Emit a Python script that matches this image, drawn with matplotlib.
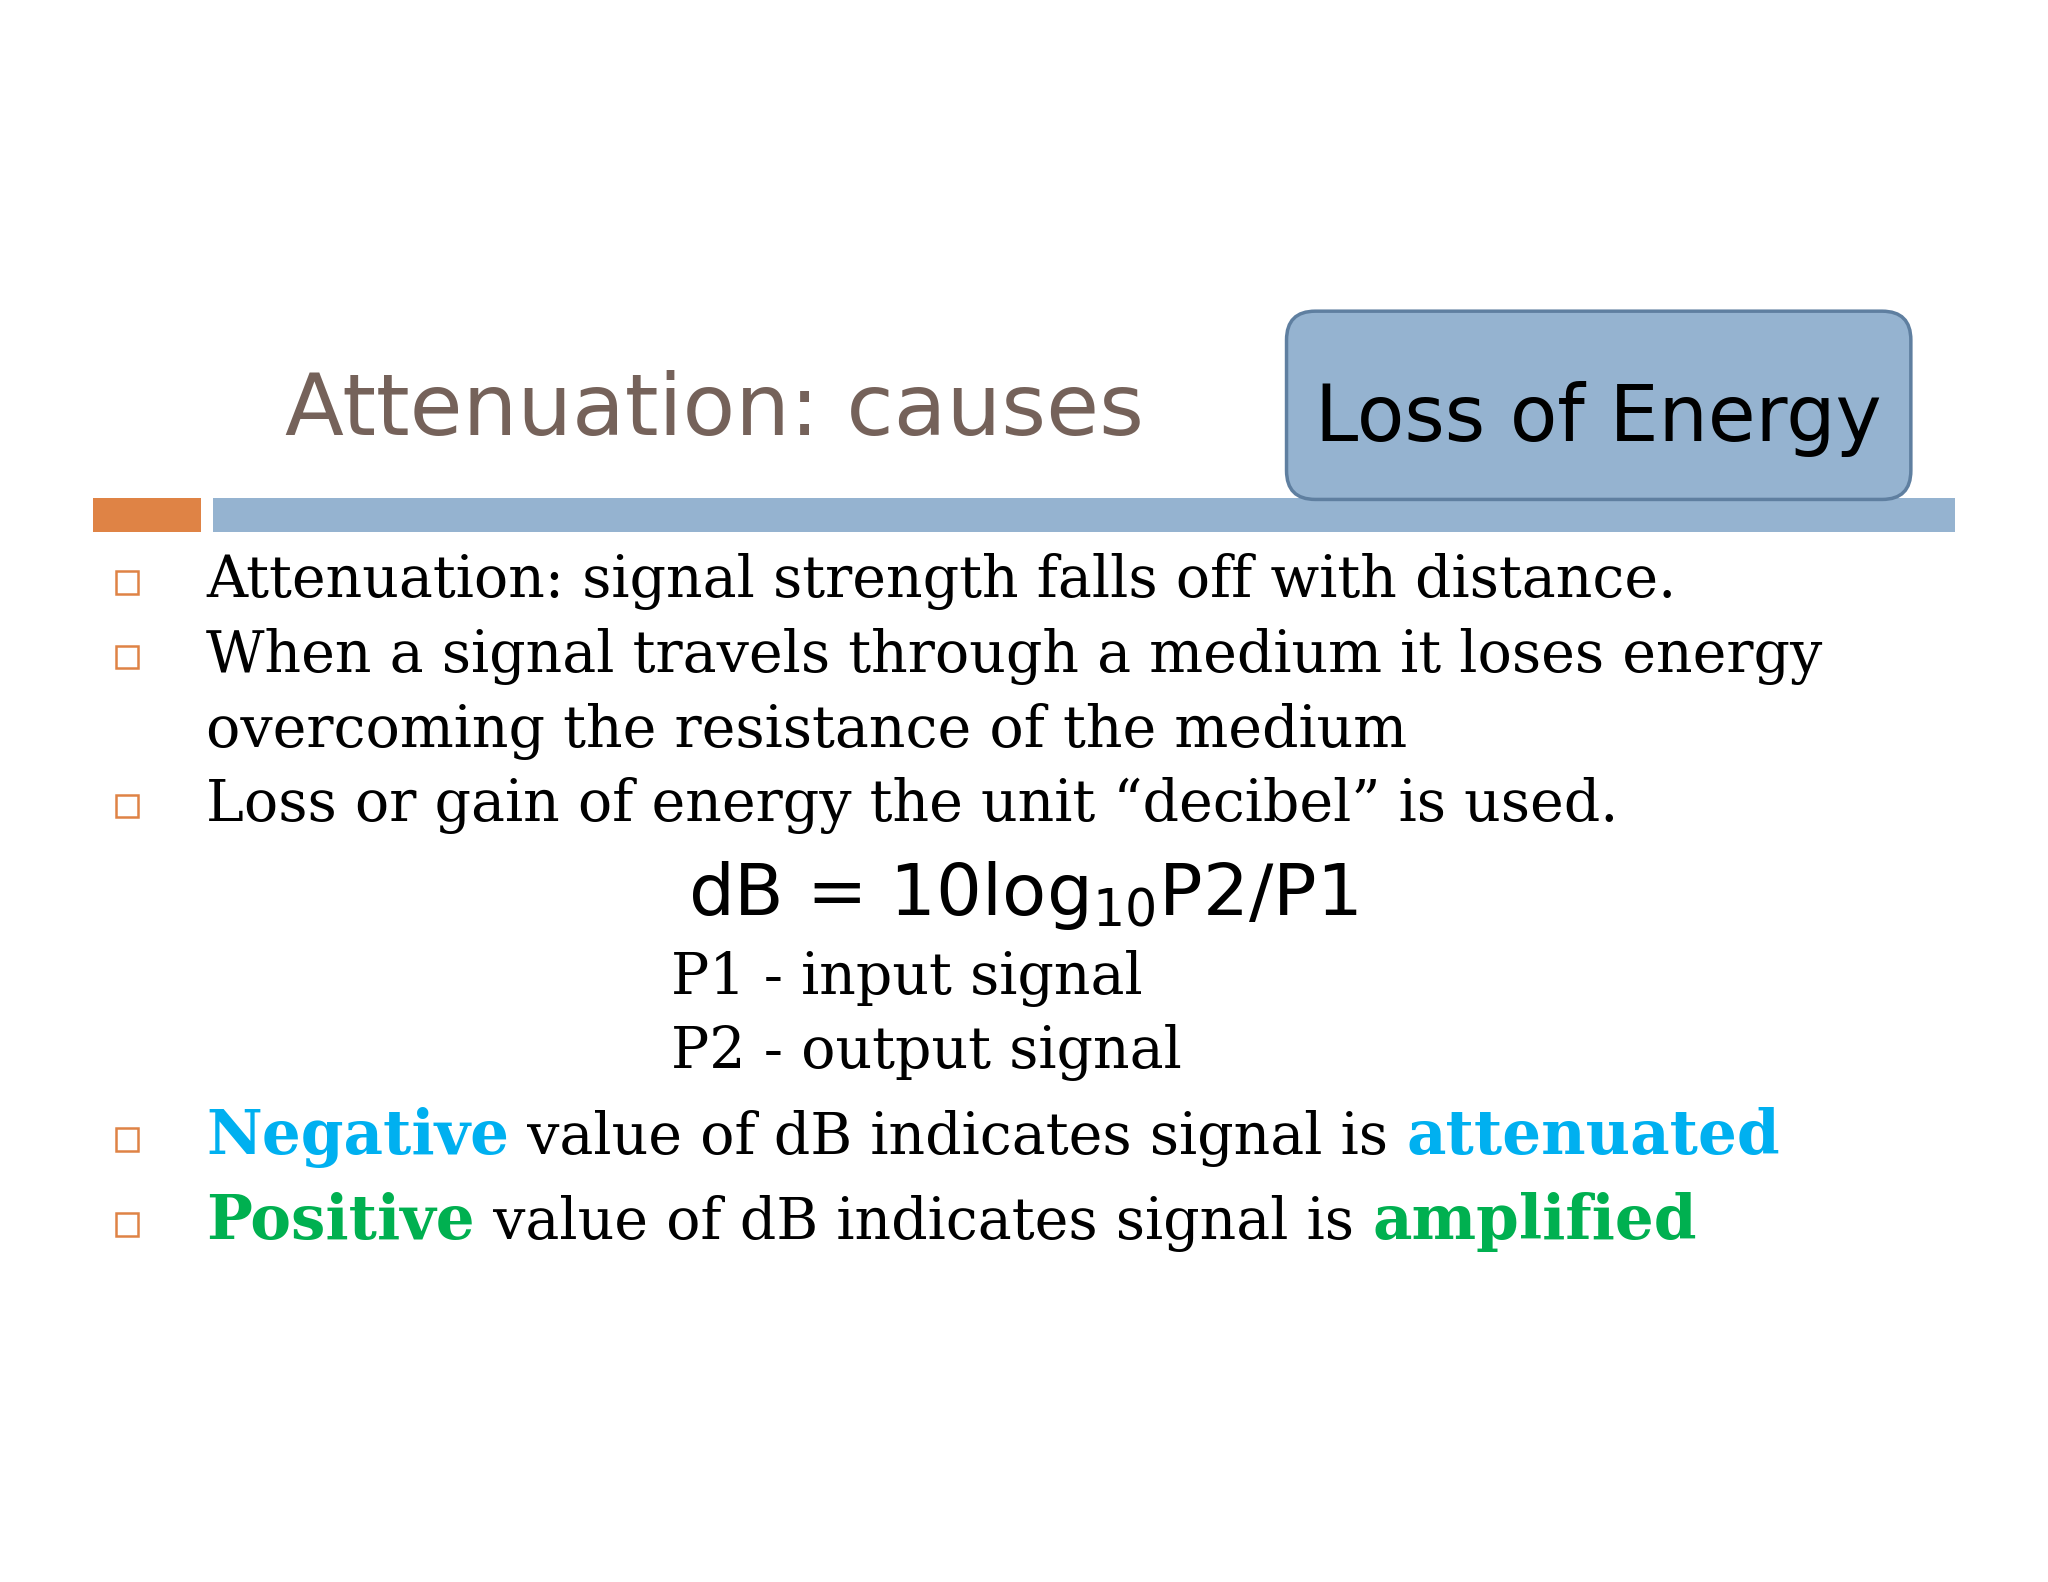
import matplotlib
matplotlib.use("Agg")
import matplotlib.pyplot as plt
from matplotlib.patches import FancyBboxPatch, Rectangle

title = "Attenuation: causes"
box_text = "Loss of Energy"
bullets = ["Attenuation: signal strength falls off with distance.",
           "When a signal travels through a medium it loses energy",
           "Loss or gain of energy the unit \u201cdecibel\u201d is used."]
continuation = "overcoming the resistance of the medium"
formula = r"dB = 10log$_{10}$P2/P1"
defs = ["P1 - input signal", "P2 - output signal"]
neg_parts = [("Negative", "#00B0F0", True), (" value of dB indicates signal is ", "black", False), ("attenuated", "#00B0F0", True)]
pos_parts = [("Positive", "#00B050", True), (" value of dB indicates signal is ", "black", False), ("amplified", "#00B050", True)]

W, H = 1568, 1210
fig = plt.figure(figsize=(20.48, 15.82), dpi=100)
ax = fig.add_axes([0, 0, 1, 1])
ax.set_xlim(0, W); ax.set_ylim(H, 0); ax.axis("off")

SERIF = "DejaVu Serif"
SANS = "DejaVu Sans"
bs = 41

ax.text(218, 333, title, fontsize=62, color="#75625A", family=SANS, va="baseline")
ax.add_patch(Rectangle((71, 381), 83, 26, color="#DF8345", lw=0))
ax.add_patch(Rectangle((163, 381), 1334, 26, color="#95B3D0", lw=0))
ax.add_patch(FancyBboxPatch((985, 238), 478, 144, boxstyle="round,pad=0,rounding_size=22",
                            fc="#95B3D0", ec="#5F7FA0", lw=2.5, zorder=3))
ax.text(1224, 337, box_text, fontsize=56, color="black", family=SANS, ha="center", va="baseline", zorder=4)

def bullet(y):
    ax.add_patch(Rectangle((89, y - 20), 17, 17, fill=False, ec="#DF8345", lw=1.8))

for y, t in zip([457, 514, 628], bullets):
    bullet(y)
    ax.text(158, y, t, fontsize=bs, family=SERIF, va="baseline")
ax.text(158, 571, continuation, fontsize=bs, family=SERIF, va="baseline")

ax.text(527, 700, formula, fontsize=52, family=SANS, va="baseline")
ax.text(514, 760, defs[0], fontsize=bs, family=SERIF, va="baseline")
ax.text(514, 817, defs[1], fontsize=bs, family=SERIF, va="baseline")

fig.canvas.draw()
r = fig.canvas.get_renderer()
inv = ax.transData.inverted()
for y, parts in [(883, neg_parts), (948, pos_parts)]:
    bullet(y)
    x = 158
    for s, c, b in parts:
        t = ax.text(x, y, s, fontsize=bs + (3 if b else 0), family=SERIF, color=c,
                    weight="bold" if b else "normal", va="baseline")
        bb = t.get_window_extent(r)
        x = inv.transform((bb.x1, bb.y0))[0]

fig.savefig("out.png", dpi=100, facecolor="white")
